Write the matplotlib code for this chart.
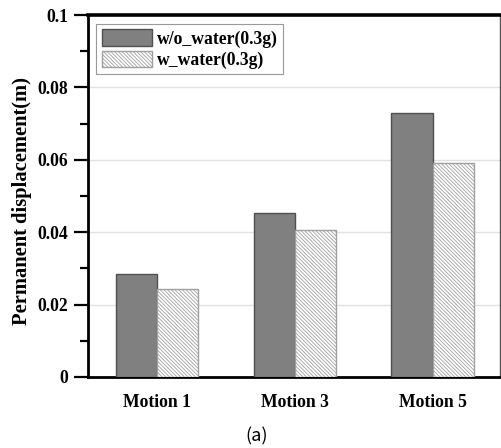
import matplotlib.pyplot as plt
import numpy as np
from matplotlib.ticker import MultipleLocator, FixedLocator, FixedFormatter

motions = ['Motion 1', 'Motion 3', 'Motion 5']
no_water = [0.0284, 0.0454, 0.0730]
with_water = [0.0242, 0.0405, 0.0592]
yticks = [0, 0.02, 0.04, 0.06, 0.08, 0.1]
ytick_labels = ['0', '0.02', '0.04', '0.06', '0.08', '0.1']

plt.rcParams['font.family'] = ['Liberation Serif', 'DejaVu Serif']
plt.rcParams['font.weight'] = 'bold'
plt.rcParams['hatch.linewidth'] = 0.6

fig = plt.figure(figsize=(5.01, 4.48), dpi=100)
ax = fig.add_axes([0.175, 0.1585, 0.823, 0.808])

x = np.arange(len(motions))
w = 0.3
ax.bar(x - w / 2, no_water, w, color='#808080', edgecolor='#505050', linewidth=1.0,
       label='w/o_water(0.3g)', zorder=3)
ax.bar(x + w / 2, with_water, w, color='white', edgecolor='#a0a0a0', linewidth=1.0,
       hatch='\\' * 9, label='w_water(0.3g)', zorder=3)

ax.set_xlim(-0.505, 2.49)
ax.set_ylim(0, 0.1)
ax.set_xticks(x)
ax.set_xticklabels(motions, fontsize=12.7, fontweight='bold')
ax.tick_params(axis='x', length=0, pad=12)

ax.yaxis.set_major_locator(FixedLocator(yticks))
ax.yaxis.set_major_formatter(FixedFormatter(ytick_labels))
ax.yaxis.set_minor_locator(MultipleLocator(0.01))
ax.tick_params(axis='y', which='major', direction='out', length=10, width=1.6,
               labelsize=12.7, pad=4)
ax.tick_params(axis='y', which='minor', direction='out', length=6, width=1.6)
for lbl in ax.get_yticklabels():
    lbl.set_fontweight('bold')

ax.grid(axis='y', color='#e2e2e2', linewidth=1.0, zorder=0)
ax.set_axisbelow(True)

ax.spines['left'].set_linewidth(2.0)
ax.spines['bottom'].set_linewidth(2.0)
ax.spines['top'].set_linewidth(2.6)
ax.spines['right'].set_linewidth(1.0)
ax.spines['right'].set_color('#555555')

ax.set_ylabel('Permanent displacement(m)', fontsize=14.8, fontweight='bold', labelpad=5)
ax.yaxis.set_label_coords(-0.135, 0.487)

leg = ax.legend(loc='upper left', bbox_to_anchor=(0.021, 0.976), fontsize=12.7,
                handlelength=2.85, handleheight=1.1, handletextpad=0.3,
                labelspacing=0.17, borderpad=0.3, borderaxespad=0,
                fancybox=False, framealpha=1, edgecolor='#999999')
leg.get_frame().set_linewidth(0.8)
for t in leg.get_texts():
    t.set_fontweight('bold')

fig.text(0.513, 0.027, '(a)', fontsize=13, fontweight='normal',
         family=['Noto Sans CJK KR', 'DejaVu Sans'], ha='center', va='center')

fig.savefig('out.png', dpi=100)
